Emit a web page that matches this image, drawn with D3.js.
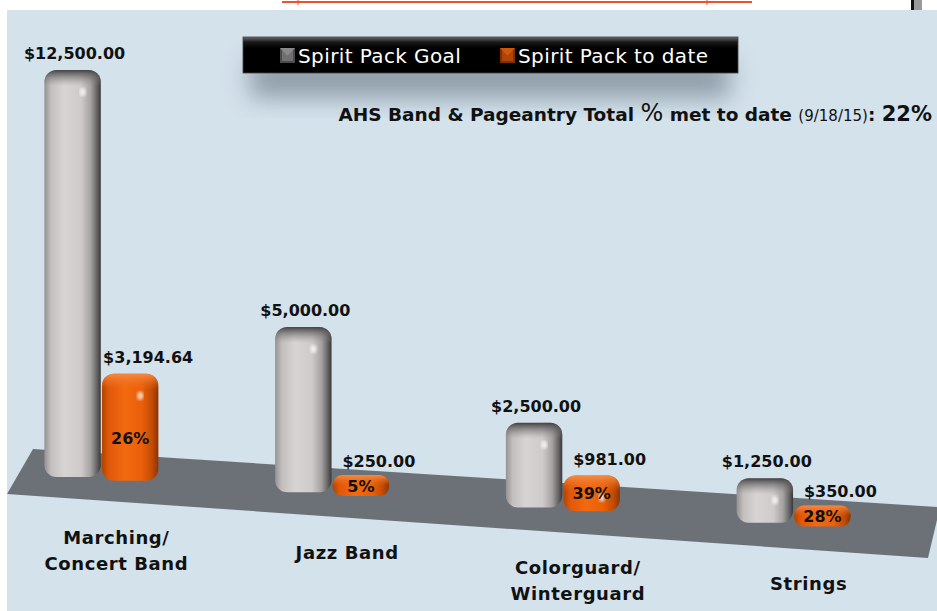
<!DOCTYPE html>
<html>
<head>
<meta charset="utf-8">
<script src="https://cdn.jsdelivr.net/npm/d3@7"></script>
<style>
  html, body { margin: 0; padding: 0; background: #fff; }
  svg { display: block; font-family: "DejaVu Sans", sans-serif; }
</style>
</head>
<body>
<div id="chart"></div>
<script>
// data
const categoryLines = [["Marching/", "Concert Band"], ["Jazz Band"], ["Colorguard/", "Winterguard"], ["Strings"]];
const goalValues = [12500, 5000, 2500, 1250];
const toDateValues = [3194.64, 250, 981, 350];
const seriesNames = ["Spirit Pack Goal", "Spirit Pack to date"];
const titleDate = "(9/18/15)";

const W = 937, H = 611;
const fmt = d3.format("$,.2f");

const svg = d3.select("#chart").append("svg")
    .attr("width", W).attr("height", H);

const defs = svg.append("defs");

// gradients for the rounded "3d" bars
function hGrad(id, stops) {
  const g = defs.append("linearGradient").attr("id", id)
      .attr("x1", 0).attr("x2", 1).attr("y1", 0).attr("y2", 0);
  stops.forEach(s => g.append("stop").attr("offset", s[0]).attr("stop-color", s[1]));
}
hGrad("gGoal", [[0, "#959292"], [0.12, "#c3bfbf"], [0.35, "#d8d4d4"], [0.65, "#cfcbcb"], [0.82, "#a6a2a2"], [0.93, "#666464"], [1, "#3a3939"]]);
hGrad("gDate", [[0, "#b24300"], [0.12, "#e0580a"], [0.4, "#f2690f"], [0.7, "#ea600b"], [0.88, "#c44c02"], [1, "#8c3400"]]);

const blur = defs.append("filter").attr("id", "blur").attr("x", "-20%").attr("y", "-50%")
    .attr("width", "140%").attr("height", "200%");
blur.append("feGaussianBlur").attr("stdDeviation", 12);
const soft = defs.append("filter").attr("id", "soft");
soft.append("feGaussianBlur").attr("stdDeviation", 1.5);

// page strips
svg.append("rect").attr("x", 7).attr("y", 10).attr("width", W - 7).attr("height", H - 10)
    .attr("fill", "#d4e2ec");
svg.append("line").attr("x1", 282).attr("x2", 752).attr("y1", 2).attr("y2", 2)
    .attr("stroke", "#f2502a").attr("stroke-width", 2);
[298, 707].forEach(x => svg.append("line").attr("x1", x).attr("x2", x).attr("y1", 0).attr("y2", 5)
    .attr("stroke", "#f2502a").attr("stroke-width", 1));
svg.append("rect").attr("x", 911).attr("y", 0).attr("width", 3).attr("height", 10).attr("fill", "#111");
svg.append("rect").attr("x", 914).attr("y", 0).attr("width", 8).attr("height", 10).attr("fill", "#9a9a9a");

// scales
const x0 = d3.scaleBand().domain(d3.range(categoryLines.length)).range([-14, 909]);
const x1 = d3.scaleBand().domain([0, 1]).range([x0.bandwidth() / 2 - 57, x0.bandwidth() / 2 + 57]).paddingInner(0.02);
const y = d3.scaleLinear().domain([0, 12500]).range([0, 403]);
const floorY = d3.scaleLinear().domain([0, W]).range([472.2, 534]);

// floor
svg.append("path")
    .attr("d", "M33,449 L937,507 L937,520 L928,558 L7,494 Z")
    .attr("fill", "#6c7177");

// bars
const rows = [];
goalValues.forEach((v, i) => {
  rows.push({ i: i, s: 0, v: v });
  rows.push({ i: i, s: 1, v: toDateValues[i] });
});
rows.forEach(d => {
  d.x = x0(d.i) + x1(d.s);
  d.w = x1.bandwidth();
  d.cx = d.x + d.w / 2;
  d.bottom = floorY(d.cx);
  d.h = Math.max(y(d.v) + 4, 21);
  d.top = d.bottom - d.h;
});

const bars = svg.append("g").selectAll("g").data(rows).join("g");

bars.each(function (d, k) {
  const cap = defs.append("linearGradient").attr("id", "cap" + k)
      .attr("gradientUnits", "userSpaceOnUse")
      .attr("x1", 0).attr("x2", 0).attr("y1", d.top).attr("y2", d.top + Math.min(16, d.h / 2));
  const c = d.s === 0 ? ["#434242", "#8f8d8d"] : ["#f38a45", "#f06a14"];
  cap.append("stop").attr("offset", 0).attr("stop-color", c[0]).attr("stop-opacity", 1);
  cap.append("stop").attr("offset", 1).attr("stop-color", c[1]).attr("stop-opacity", 0);
});

bars.append("rect")
    .attr("x", d => d.x).attr("y", d => d.top)
    .attr("width", d => d.w).attr("height", d => d.h)
    .attr("rx", d => Math.min(12, d.h / 2.2)).attr("ry", d => Math.min(12, d.h / 2.2))
    .attr("fill", d => d.s === 0 ? "url(#gGoal)" : "url(#gDate)");
bars.append("rect")
    .attr("x", d => d.x).attr("y", d => d.top)
    .attr("width", d => d.w).attr("height", d => d.h)
    .attr("rx", d => Math.min(12, d.h / 2.2)).attr("ry", d => Math.min(12, d.h / 2.2))
    .attr("fill", (d, k) => "url(#cap" + k + ")");
// specular spot
bars.filter(d => d.h > 30).append("ellipse")
    .attr("cx", d => d.x + d.w * 0.68).attr("cy", d => d.top + 22)
    .attr("rx", 3).attr("ry", 4).attr("fill", "#fff").attr("opacity", 0.75)
    .attr("filter", "url(#soft)");

// value labels
svg.append("g").selectAll("text").data(rows).join("text")
    .attr("x", d => d.cx + (d.s === 0 ? 2 : 18))
    .attr("y", d => d.top - (d.h < 25 ? 8 : 11))
    .attr("text-anchor", "middle")
    .attr("font-size", 16).attr("font-weight", "bold").attr("fill", "#111")
    .text(d => fmt(d.v));

// percent labels inside to-date bars
svg.append("g").selectAll("text").data(rows.filter(d => d.s === 1)).join("text")
    .attr("x", d => d.cx)
    .attr("y", d => d.h > 60 ? d.top + d.h * 0.6 + 6 : d.top + d.h / 2 + 6)
    .attr("text-anchor", "middle")
    .attr("font-size", 16).attr("font-weight", "bold").attr("fill", "#111")
    .text(d => Math.round(d.v / goalValues[d.i] * 100) + "%");

// category labels
const cat = svg.append("g").selectAll("text").data(categoryLines).join("text")
    .attr("text-anchor", "middle")
    .attr("font-size", 18).attr("font-weight", "bold").attr("fill", "#111")
    .attr("letter-spacing", 0.6)
    .attr("transform", (d, i) => {
      const cx = x0(i) + x0.bandwidth() / 2 + 15;
      return "translate(" + cx + "," + (floorY(cx) + 64) + ")";
    });
cat.selectAll("tspan").data(d => d).join("tspan")
    .attr("x", 0).attr("dy", (d, j) => j === 0 ? 0 : 26)
    .text(d => d);

// legend with its shadow
svg.append("rect").attr("x", 250).attr("y", 58).attr("width", 480).attr("height", 40)
    .attr("fill", "#7e8c99").attr("opacity", 0.8).attr("filter", "url(#blur)");
const lg = defs.append("linearGradient").attr("id", "lgTop").attr("x1", 0).attr("x2", 0).attr("y1", 0).attr("y2", 1);
lg.append("stop").attr("offset", 0).attr("stop-color", "#6a6a6a");
lg.append("stop").attr("offset", 0.14).attr("stop-color", "#1a1a1a");
lg.append("stop").attr("offset", 0.3).attr("stop-color", "#000");
lg.append("stop").attr("offset", 1).attr("stop-color", "#000");
svg.append("rect").attr("x", 243).attr("y", 37).attr("width", 495).attr("height", 36)
    .attr("fill", "url(#lgTop)").attr("stroke", "#444").attr("stroke-width", 0.8);

const legendX = [280, 500];
const legendFill = ["#8a8888", "#d0560a"];
const legendDark = ["#4c4b4b", "#7e2f00"];
seriesNames.forEach((name, i) => {
  const g = svg.append("g").attr("transform", "translate(" + legendX[i] + ",48)");
  g.append("rect").attr("width", 15).attr("height", 15).attr("fill", legendDark[i]);
  g.append("path").attr("d", "M0,0 L15,0 L7.5,7.5 Z").attr("fill", legendFill[i]);
  g.append("rect").attr("x", 2).attr("y", 2).attr("width", 11).attr("height", 11)
      .attr("fill", legendFill[i]).attr("opacity", 0.6);
  g.append("text").attr("x", 18).attr("y", 15)
      .attr("font-size", 20).attr("letter-spacing", 0.4).attr("fill", "#fff").text(name);
});

// total line
const totalPct = Math.round(d3.sum(toDateValues) / d3.sum(goalValues) * 100);
const title = svg.append("text").attr("x", 932).attr("y", 121)
    .attr("text-anchor", "end").attr("fill", "#111").attr("font-weight", "bold").attr("font-size", 18.5);
title.append("tspan").text("AHS Band & Pageantry Total ");
title.append("tspan").attr("font-size", 24).attr("font-weight", "normal").text("%");
title.append("tspan").text(" met to date ");
title.append("tspan").attr("font-size", 15).attr("font-weight", "normal").text(titleDate);
title.append("tspan").text(": ");
title.append("tspan").attr("font-size", 21).text(totalPct + "%");
</script>
</body>
</html>
